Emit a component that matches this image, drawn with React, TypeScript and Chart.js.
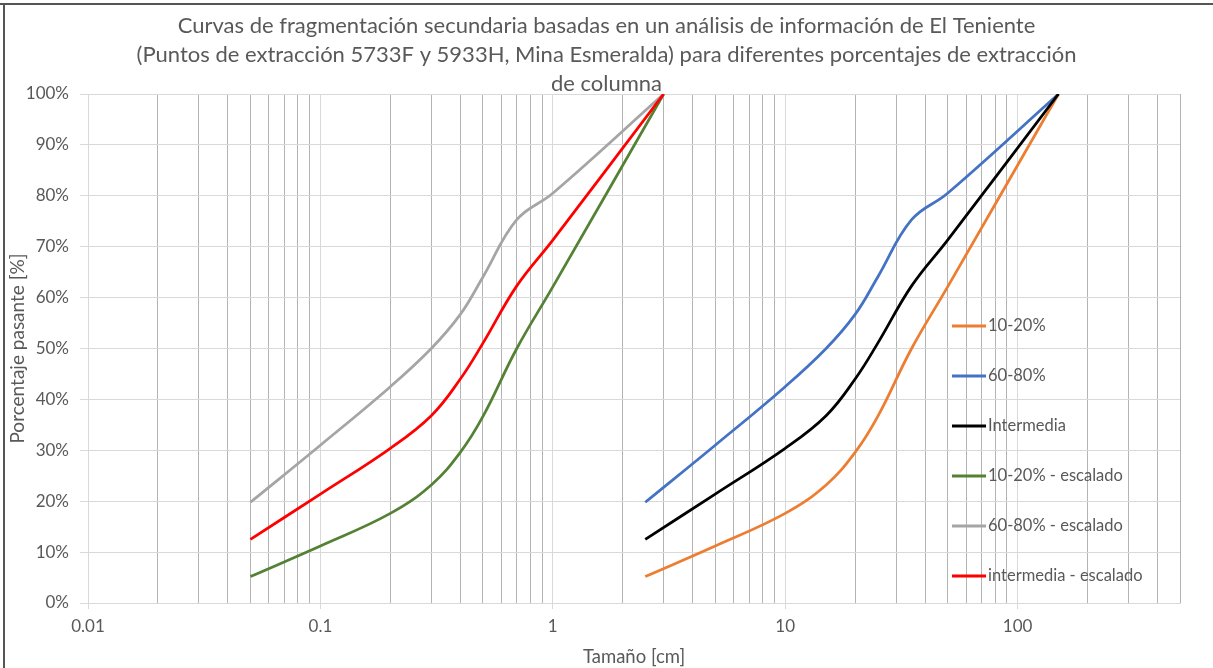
import React, { useEffect, useRef } from 'react';
import { Chart, registerables } from 'chart.js';

Chart.register(...registerables);

const titleLines = [
  'Curvas de fragmentación secundaria basadas en un análisis de información de El Teniente',
  '(Puntos de extracción 5733F y 5933H, Mina Esmeralda) para diferentes porcentajes de extracción',
  'de columna',
];
const xAxisTitle = 'Tamaño [cm]';
const yAxisTitle = 'Porcentaje pasante [%]';

// sizes (cm) of the measured curves and of the scaled curves
const sizesCm = [2.5, 5, 10, 15, 20, 25, 35, 50, 150];
const sizesEscaladoCm = [0.05, 0.1, 0.2, 0.3, 0.4, 0.5, 0.7, 1, 3];

// percent passing
const pct1020 = [5.2, 11.2, 17.6, 23.2, 29.6, 36.6, 50.0, 62.1, 100];
const pct6080 = [19.8, 31.0, 42.5, 50.0, 56.7, 64.0, 75.3, 80.5, 100];
const pctIntermedia = [12.5, 21.4, 30.4, 36.8, 44.0, 51.0, 62.3, 71.3, 100];

const seriesNames = [
  '10-20%',
  '60-80%',
  'Intermedia',
  '10-20% - escalado',
  '60-80% - escalado',
  'intermedia - escalado',
];
const seriesColors = ['#ED7D31', '#4472C4', '#000000', '#548235', '#A5A5A5', '#FF0000'];

const xTickLabels = ['0.01', '0.1', '1', '10', '100'];
const yTickValues = [0, 10, 20, 30, 40, 50, 60, 70, 80, 90, 100];
const xMin = 0.01;
const xMax = 500;

const xGridValues: number[] = [];
for (let e = -2; e <= 2; e++) {
  for (let m = 1; m <= 9; m++) {
    const v = parseFloat((m * Math.pow(10, e)).toPrecision(3));
    if (v <= xMax) xGridValues.push(v);
  }
}

const isDecade = (v: number) => Math.abs(Math.log10(v) - Math.round(Math.log10(v))) < 1e-9;

const TEXT = '#595959';
const FONT = 'Lato, "Open Sans", sans-serif';

const legendPlugin = {
  id: 'insideLegend',
  afterDatasetsDraw(chart: any) {
    const ctx = chart.ctx;
    ctx.save();
    ctx.font = `16.5px ${FONT}`;
    ctx.textBaseline = 'middle';
    ctx.textAlign = 'left';
    seriesNames.forEach((name, i) => {
      const y = 326 + i * 50;
      ctx.strokeStyle = seriesColors[i];
      ctx.lineWidth = 3;
      ctx.beginPath();
      ctx.moveTo(952, y);
      ctx.lineTo(986, y);
      ctx.stroke();
      ctx.fillStyle = TEXT;
      ctx.fillText(name, 988, y);
    });
    ctx.restore();
  },
};

export default function App() {
  const canvasRef = useRef<HTMLCanvasElement | null>(null);

  useEffect(() => {
    const canvas = canvasRef.current;
    if (!canvas) return;
    Chart.defaults.font.family = FONT;
    Chart.defaults.color = TEXT;

    const pctSets = [pct1020, pct6080, pctIntermedia, pct1020, pct6080, pctIntermedia];
    const xSets = [sizesCm, sizesCm, sizesCm, sizesEscaladoCm, sizesEscaladoCm, sizesEscaladoCm];

    const datasets = seriesNames.map((name, i) => ({
      label: name,
      data: xSets[i].map((x, j) => ({ x, y: pctSets[i][j] })),
      borderColor: seriesColors[i],
      backgroundColor: seriesColors[i],
      borderWidth: 2.75,
      pointRadius: 0,
      fill: false,
      tension: 0.4,
      order: seriesNames.length - i,
    }));

    const chart = new Chart(canvas, {
      type: 'line',
      data: { datasets },
      plugins: [legendPlugin],
      options: {
        animation: false,
        responsive: false,
        maintainAspectRatio: false,
        layout: { padding: { left: 5, right: 5, top: 0, bottom: 0 } },
        plugins: {
          legend: { display: false },
          tooltip: { enabled: false },
          title: {
            display: true,
            text: titleLines,
            color: TEXT,
            font: { size: 22, weight: 'normal', lineHeight: 1.3, family: FONT },
            padding: { top: 12, bottom: -3.8 },
          },
        },
        scales: {
          x: {
            type: 'logarithmic',
            min: xMin,
            max: xMax,
            afterBuildTicks: (scale: any) => {
              scale.ticks = xGridValues.map((v) => ({ value: v }));
            },
            afterFit: (scale: any) => {
              scale.height = 65;
            },
            ticks: {
              autoSkip: false,
              maxRotation: 0,
              padding: 7,
              color: TEXT,
              font: { size: 17, family: FONT },
              callback: (value: any) => {
                const v = Number(value);
                const lab = xTickLabels.find((l) => Math.abs(parseFloat(l) - v) / v < 1e-6);
                return lab !== undefined ? lab : '';
              },
            },
            grid: {
              color: (ctx: any) => (ctx.tick && isDecade(ctx.tick.value) ? '#d9d9d9' : '#b4b4b4'),
              tickColor: (ctx: any) => (ctx.tick && isDecade(ctx.tick.value) ? '#d9d9d9' : 'rgba(0,0,0,0)'),
              tickLength: 6,
              lineWidth: 1,
            },
            border: { color: '#d9d9d9' },
            title: {
              display: true,
              text: xAxisTitle,
              color: TEXT,
              font: { size: 18.5, family: FONT },
              padding: { top: 0, bottom: 0 },
            },
          },
          y: {
            type: 'linear',
            min: 0,
            max: 100,
            afterBuildTicks: (scale: any) => {
              scale.ticks = yTickValues.map((v) => ({ value: v }));
            },
            afterFit: (scale: any) => {
              scale.width = 83;
            },
            ticks: {
              padding: 11,
              color: TEXT,
              font: { size: 17, family: FONT },
              callback: (value: any) => `${value}%`,
            },
            grid: { color: '#d9d9d9', tickColor: '#d9d9d9', tickLength: 8, lineWidth: 1 },
            border: { color: '#d9d9d9' },
            title: {
              display: true,
              text: yAxisTitle,
              color: TEXT,
              font: { size: 19, family: FONT },
              padding: { top: 1.5, bottom: 0 },
            },
          },
          spacer: {
            type: 'linear',
            position: 'right',
            display: true,
            grid: { display: false, drawTicks: false },
            border: { display: false },
            ticks: { display: false },
            afterFit: (scale: any) => {
              scale.width = 28;
            },
          },
        },
      } as any,
    });

    return () => chart.destroy();
  }, []);

  return (
    <div
      style={{
        position: 'fixed',
        left: 0,
        top: 0,
        width: 1213,
        height: 668,
        background: '#ffffff',
        overflow: 'hidden',
      }}
    >
      <canvas ref={canvasRef} width={1213} height={668} style={{ position: 'absolute', left: 0, top: 0 }} />
      <div style={{ position: 'absolute', left: 0, top: 3, width: 1213, height: 2, background: '#555555' }} />
      <div style={{ position: 'absolute', left: 3, top: 3, width: 2, height: 665, background: '#555555' }} />
    </div>
  );
}
